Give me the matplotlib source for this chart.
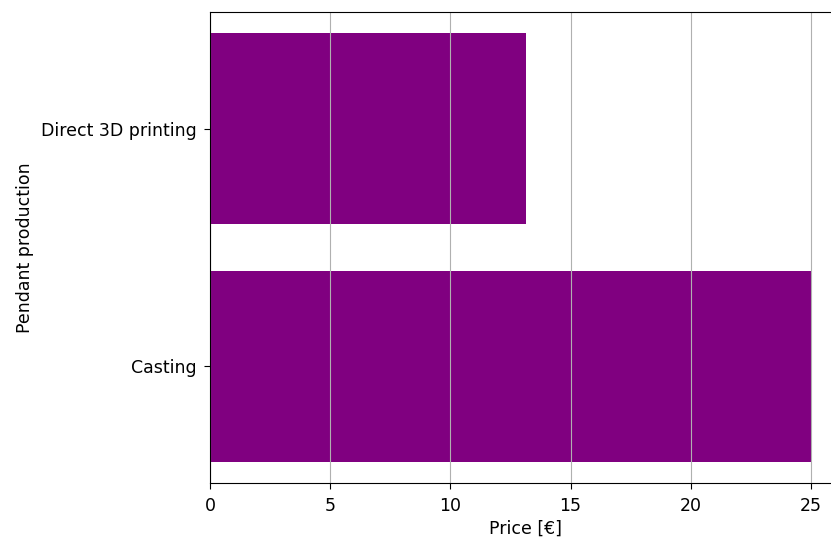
import matplotlib
matplotlib.use("Agg")
import matplotlib.pyplot as plt

methods = ["Casting", "Direct 3D printing"]
prices = [25.0, 13.13]

plt.rcParams["font.size"] = 12.5

fig = plt.figure(figsize=(8.31, 5.41), dpi=100)
# axes runs past the right edge of the figure, as in the reference crop
ax = fig.add_axes([210/831, (541-483)/541, 631/831, (483-12)/541])
ax.barh(methods, prices, color="purple")
ax.set_xlim(0, 26.25)
ax.grid(axis="x")
ax.tick_params(axis="x", length=4.5, pad=5.5)
ax.tick_params(axis="y", length=4.5, pad=5)
ax.set_xlabel("Price [€]", labelpad=3.5)
ax.set_ylabel("Pendant production", labelpad=5)

fig.savefig("out.png", dpi=100)
